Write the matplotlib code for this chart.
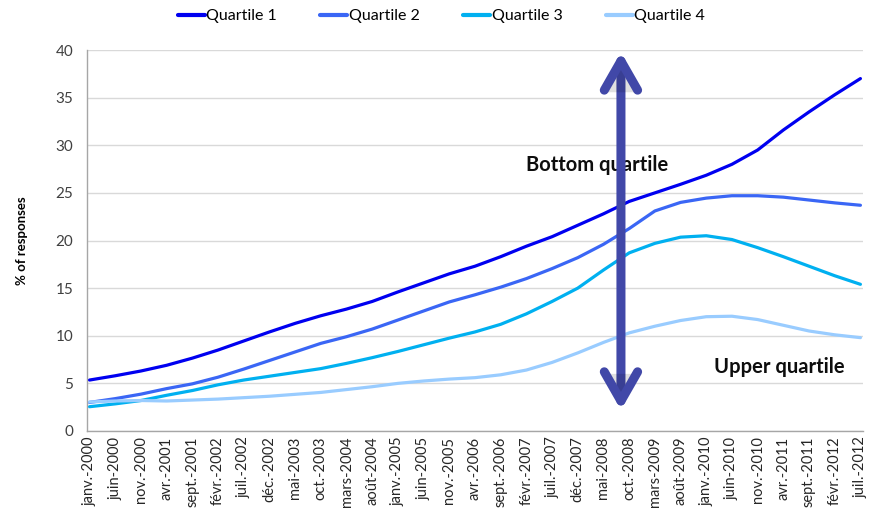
import matplotlib
matplotlib.use("Agg")
import matplotlib.pyplot as plt
import matplotlib.patheffects as pe
import numpy as np

# Category labels (one every 5 months, Jan 2000 .. Jul 2012)
tick_labels = [
    "janv.-2000", "juin-2000", "nov.-2000", "avr.-2001", "sept.-2001",
    "févr.-2002", "juil.-2002", "déc.-2002", "mai-2003", "oct.-2003",
    "mars-2004", "août-2004", "janv.-2005", "juin-2005", "nov.-2005",
    "avr.-2006", "sept.-2006", "févr.-2007", "juil.-2007", "déc.-2007",
    "mai-2008", "oct.-2008", "mars-2009", "août-2009", "janv.-2010",
    "juin-2010", "nov.-2010", "avr.-2011", "sept.-2011", "févr.-2012",
    "juil.-2012",
]

# % of responses per quartile at each labelled month
quartile_1 = [5.35, 5.8, 6.3, 6.9, 7.65, 8.5, 9.45, 10.4, 11.3, 12.1,
              12.8, 13.6, 14.6, 15.55, 16.5, 17.3, 18.3, 19.4, 20.4, 21.6,
              22.8, 24.1, 25.0, 25.9, 26.85, 28.0, 29.5, 31.6, 33.5, 35.3,
              37.0]
quartile_2 = [3.0, 3.4, 3.87, 4.45, 4.95, 5.65, 6.5, 7.4, 8.3, 9.2,
              9.9, 10.7, 11.65, 12.6, 13.55, 14.3, 15.1, 16.0, 17.05, 18.2,
              19.6, 21.25, 23.1, 24.0, 24.45, 24.7, 24.7, 24.55, 24.25, 23.95,
              23.7]
quartile_3 = [2.55, 2.85, 3.2, 3.75, 4.25, 4.85, 5.35, 5.75, 6.15, 6.55,
              7.1, 7.7, 8.35, 9.05, 9.75, 10.4, 11.2, 12.3, 13.6, 15.0,
              16.9, 18.7, 19.7, 20.35, 20.5, 20.1, 19.25, 18.3, 17.3, 16.3,
              15.4]
quartile_4 = [3.05, 3.15, 3.2, 3.15, 3.25, 3.35, 3.5, 3.65, 3.85, 4.05,
              4.35, 4.65, 5.0, 5.25, 5.45, 5.6, 5.9, 6.4, 7.2, 8.2,
              9.3, 10.3, 11.0, 11.6, 12.0, 12.05, 11.7, 11.1, 10.5, 10.1,
              9.8]

series_names = ["Quartile 1", "Quartile 2", "Quartile 3", "Quartile 4"]
series_values = [quartile_1, quartile_2, quartile_3, quartile_4]
series_colors = ["#0000F0", "#3A66F5", "#00B0F0", "#99CCFF"]

plt.rcParams["font.family"] = ["Lato", "DejaVu Sans"]

fig = plt.figure(figsize=(8.83, 5.09), dpi=100)
ax = fig.add_axes([87 / 883, 1 - 431 / 509, 776 / 883, 381 / 509])

month_index = np.arange(len(tick_labels)) * 5

for name, vals, col in zip(series_names, series_values, series_colors):
    ax.plot(month_index, vals, color=col, lw=2.3, label=name,
            solid_capstyle="round", solid_joinstyle="round", zorder=3)

ax.set_xlim(-0.5, 150.5)
ax.set_ylim(0, 40)
ax.set_yticks(np.arange(0, 41, 5))
ax.set_xticks(month_index)
ax.set_xticklabels(tick_labels, rotation=90, fontsize=10.5, color="#262626")
ax.tick_params(axis="y", labelsize=11, colors="#404040", length=0, pad=10)
ax.tick_params(axis="x", length=0, pad=4)

ax.grid(axis="y", color="#D9D9D9", lw=1)
ax.set_axisbelow(True)
for side in ("top", "right"):
    ax.spines[side].set_visible(False)
for side in ("left", "bottom"):
    ax.spines[side].set_color("#A6A6A6")
    ax.spines[side].set_linewidth(1)

ax.set_ylabel("% of responses", fontsize=9.5, fontweight="bold",
              color="#000000", labelpad=20)

# Annotations
ax.text(98.7, 27.9, "Bottom quartile", fontsize=14.5, fontweight="bold",
        ha="center", va="center", color="#0D0D0D", zorder=4)
ax.text(134.3, 6.7, "Upper quartile", fontsize=14.5, fontweight="bold",
        ha="center", va="center", color="#0D0D0D", zorder=4)

arrow = ax.annotate(
    "", xy=(103.4, 39.8), xytext=(103.4, 2.2),
    arrowprops=dict(arrowstyle="<->,head_length=21,head_width=12",
                    mutation_scale=1, color="#4148A8", lw=6.5,
                    capstyle="round", joinstyle="round",
                    shrinkA=0, shrinkB=0),
    zorder=5)
arrow.arrow_patch.set_path_effects([
    pe.SimplePatchShadow(offset=(1.5, -1.5), shadow_rgbFace="#000000",
                         alpha=0.12),
    pe.Normal()])

fig.legend(loc="upper center", bbox_to_anchor=(0.5, 1.01), ncol=4,
           frameon=False, fontsize=11.5, handlelength=1.7, handletextpad=0.1,
           columnspacing=2.7)
for line in fig.legends[0].get_lines():
    line.set_linewidth(3)

fig.savefig("out.png", dpi=100)
